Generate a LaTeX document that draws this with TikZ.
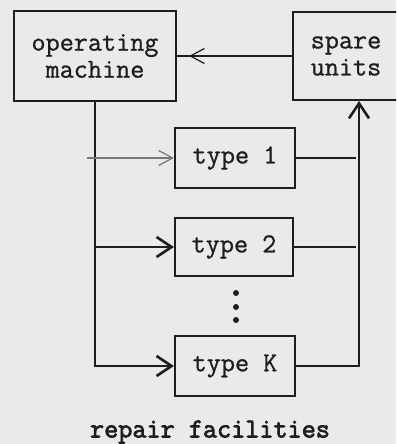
\documentclass[tikz,border=0pt]{standalone}
\usepackage{fontspec}
\newfontfamily\typer{Latin Modern Mono}[FakeBold=0.9]
\newfontfamily\typerbold{Latin Modern Mono}[FakeBold=2.6]
\usetikzlibrary{arrows.meta}
\definecolor{paper}{RGB}{234,234,234}
\definecolor{ink}{RGB}{30,30,30}
\begin{document}
\begin{tikzpicture}[x=1pt,y=-1pt,
  every node/.style={font=\typer\fontsize{27.4}{27}\selectfont, text=ink},
  box/.style={draw=ink, line width=2.2pt, inner sep=0pt, align=center},
  wire/.style={draw=ink, line width=2.2pt},
  barb/.style={-{Straight Barb[length=15pt,width=20pt,line width=2.6pt]}},
  thinbarb/.style={-{Straight Barb[length=14pt,width=15pt,line width=1.2pt]}},
  dot/.style={circle, fill=ink, inner sep=0pt, minimum size=6pt}]
  % page and paper tone
  \clip (0,0) rectangle (396,444);
  \fill[paper] (0,0) rectangle (396,444);

  % blocks
  \node[box, minimum width=162pt, minimum height=90pt] (om) at (95,56) {operating\\machine};
  \node[box, minimum width=106pt, minimum height=88pt] (su) at (346,56) {spare\\units};
  \node[box, minimum width=120pt, minimum height=60pt] (t1) at (235,158) {type 1};
  \node[box, minimum width=118pt, minimum height=58pt] (t2) at (234,247) {type 2};
  \node[box, minimum width=120pt, minimum height=60pt] (tK) at (235,366) {type K};

  % vertical ellipsis
  \node[dot] (d1) at (236,293) {};
  \node[dot] (d2) at (236,307) {};
  \node[dot] (d3) at (236,320) {};

  % caption
  \node[font=\typerbold\fontsize{27.4}{27}\selectfont] (cap) at (210,432) {repair facilities};

  % junction points
  \coordinate (split1) at (87,158);
  \coordinate (ret) at (359,101);

  % spare units back to the operating machine
  \draw[wire] (su.west) -- (om.east);
  \draw[wire, thinbarb, shorten >=12pt] (su.west) -- (om.east);

  % failed units to the repair facilities
  \draw[wire, barb] (om.south) |- (tK.west);
  \draw[wire, thinbarb, draw=ink!60] (split1) -- (t1.west);
  \draw[wire, barb] (om.south |- t2.west) -- (t2.west);

  % repaired units to the spares
  \draw[wire, barb] (tK.east) -| (ret);
  \draw[wire] (t1.east) -- ([xshift=-3pt]t1.east -| ret);
  \draw[wire] (t2.east) -- ([xshift=-3pt]t2.east -| ret);
\end{tikzpicture}
\end{document}
